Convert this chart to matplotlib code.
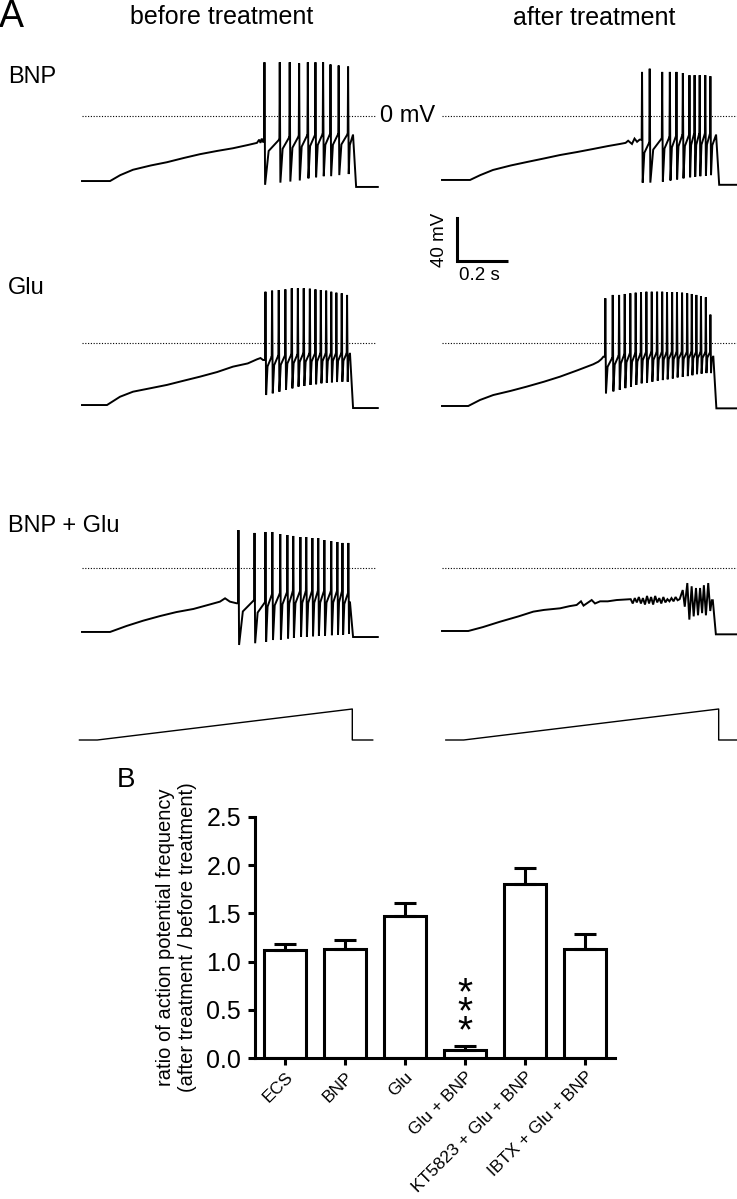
import matplotlib
matplotlib.use("Agg")
import matplotlib.pyplot as plt
import numpy as np

plt.rcParams['font.family'] = ['Liberation Sans', 'DejaVu Sans']

# ---------------- panel A: membrane potential traces (s, mV) ----------------
# BNP, before treatment
bnp_pre_ramp_t = [0.0, 0.11, 0.15, 0.20, 0.27, 0.333, 0.40, 0.463, 0.53, 0.592, 0.65, 0.686, 0.695, 0.70, 0.705, 0.71]
bnp_pre_ramp_v = [-60.5, -60.5, -55, -50, -46, -43, -39, -35.5, -32.5, -30, -27, -25, -22, -25, -21, -24]
bnp_pre_spk_t = [0.714, 0.774, 0.813, 0.850, 0.884, 0.914, 0.944, 0.973, 1.005, 1.042]
bnp_pre_peak = [50, 50, 50, 49, 50, 50, 50, 48, 47, 46]
bnp_pre_ahp = [-64, -62, -61, -60, -58, -57, -56, -56, -55, -54]
bnp_pre_thr = [-22, -20, -19, -18, -18, -17, -17, -17, -17, -18]

# BNP, after treatment
bnp_post_ramp_t = [0.0, 0.11, 0.15, 0.20, 0.27, 0.333, 0.40, 0.463, 0.53, 0.592, 0.65, 0.698, 0.72, 0.73, 0.745, 0.755, 0.765, 0.775]
bnp_post_ramp_v = [-59.5, -59.5, -55, -50.2, -46, -42.8, -39.5, -36.3, -33.5, -30.7, -28, -26, -25, -23, -26, -21, -24, -22]
bnp_post_spk_t = [0.783, 0.813, 0.862, 0.892, 0.918, 0.943, 0.969, 0.989, 1.009, 1.031, 1.051]
bnp_post_peak = [41, 44, 41, 41, 41, 40, 38, 38, 38, 38, 37]
bnp_post_ahp = [-62, -62, -61, -60, -59, -58, -57, -56.5, -56, -55.5, -55]
bnp_post_thr = [-25, -21, -20, -19, -18, -18, -17, -17, -17, -17, -18]

# Glu, before treatment
glu_pre_ramp_t = [0.0, 0.098, 0.149, 0.20, 0.27, 0.333, 0.40, 0.463, 0.53, 0.592, 0.65, 0.686, 0.70, 0.71]
glu_pre_ramp_v = [-57.7, -57.7, -50, -45.3, -42, -39, -35, -31.3, -27, -22, -19, -15.2, -14, -15.8]
glu_pre_spk_t = [0.718, 0.744, 0.770, 0.796, 0.821, 0.845, 0.868, 0.892, 0.914, 0.935, 0.956, 0.976, 0.996, 1.017, 1.038]
glu_pre_peak = [47.7, 48.7, 49.3, 49.9, 50.9, 50.9, 50.9, 50.5, 49.9, 49.3, 48.7, 47.7, 46.8, 46.2, 44.7]
glu_pre_ahp = [-48.4, -46.8, -45.3, -43.7, -42.2, -40.6, -40, -39, -38.4, -37.5, -36.9, -36.6, -36.3, -36, -36]
glu_pre_thr = [-13, -12, -12, -11, -11, -10, -10, -10, -10, -10, -10, -10, -10, -10, -10]

# Glu, after treatment
glu_post_ramp_t = [0.0, 0.103, 0.149, 0.201, 0.27, 0.332, 0.40, 0.463, 0.53, 0.593, 0.613, 0.625, 0.633]
glu_post_ramp_v = [-58.6, -58.6, -53, -48.4, -44.5, -40.6, -36, -31.3, -25.5, -19.8, -17.4, -15, -12.7]
glu_post_spk_t = [0.639, 0.668, 0.693, 0.715, 0.737, 0.758, 0.779, 0.800, 0.821, 0.842, 0.862,
                  0.881, 0.901, 0.920, 0.940, 0.960, 0.978, 0.996, 1.014, 1.033, 1.051]
glu_post_peak = [41.6, 44.7, 44.7, 45.6, 46.2, 46.8, 47.4, 47.7, 47.7, 47.7, 47.7,
                 47.4, 47.4, 47.1, 46.8, 46.2, 45.6, 44.7, 43.7, 42.5, 26.4]
glu_post_ahp = [-46.8, -45, -43.5, -42, -40.5, -39, -37.5, -36.8, -36, -35, -34.5,
                -33.8, -33, -32, -31.5, -30.8, -30, -29, -28.5, -28, -28]
glu_post_thr = [-14, -12, -11, -10, -10, -10, -9, -9, -9, -9, -9,
                -9, -9, -9, -9, -9, -9, -9, -9, -9, -12.7]

# BNP + Glu, before treatment
both_pre_ramp_t = [0.0, 0.11, 0.175, 0.24, 0.306, 0.37, 0.437, 0.50, 0.541, 0.561, 0.580, 0.606]
both_pre_ramp_v = [-59.5, -59.5, -53.9, -49, -44.7, -41, -38.1, -34, -31.3, -28.2, -31.3, -32.8]
both_pre_spk_t = [0.612, 0.675, 0.718, 0.745, 0.776, 0.804, 0.827, 0.855, 0.878, 0.902, 0.925, 0.949, 0.976, 1.0, 1.02, 1.043]
both_pre_peak = [35.3, 32.6, 33.5, 33.5, 31.6, 30.7, 29.8, 28.8, 28.8, 27.9, 27.9, 26, 25.1, 24.2, 23.3, 23.3]
both_pre_ahp = [-71.6, -70, -68.8, -67, -66.5, -65.5, -65, -64, -64, -63.5, -63, -63, -62.5, -62, -62, -61]
both_pre_thr = [-30, -32, -25, -24, -23, -22, -22, -22, -22, -22, -22, -22, -22, -22, -24, -32]

# BNP + Glu, after treatment (no full spikes, only oscillations)
both_post_ramp_t = [0.0, 0.103, 0.16, 0.227, 0.30, 0.358, 0.40, 0.463, 0.50, 0.528, 0.545, 0.555, 0.587, 0.60, 0.62, 0.65, 0.685,
                    0.740, 0.748, 0.756, 0.764, 0.772, 0.780, 0.788, 0.796, 0.804, 0.812, 0.820, 0.828, 0.836, 0.844,
                    0.852, 0.860, 0.868, 0.876, 0.884, 0.892, 0.900, 0.908, 0.916, 0.924, 0.932,
                    0.944, 0.952, 0.962, 0.970, 0.979, 0.987, 0.996, 1.004, 1.012, 1.020, 1.027, 1.035, 1.044, 1.052, 1.058]
both_post_ramp_v = [-58.6, -58.6, -55, -50, -45, -40.6, -39, -37.5, -35.5, -34.4, -31, -35, -29.8, -33, -31, -31, -29.8,
                    -29, -33, -28, -32, -27, -33, -28, -34, -26, -33, -27, -34, -26, -32,
                    -28, -33, -27, -32, -29, -31, -28, -31, -27, -30, -29,
                    -20.5, -36, -14, -48, -17, -45, -18.6, -44, -18.6, -42, -16, -44, -14, -40, -30]

# offset time of the ramp response and level after it
off_t = {'bnp_pre': 1.063, 'bnp_post': 1.075, 'glu_pre': 1.051, 'glu_post': 1.064, 'both_pre': 1.051, 'both_post': 1.062}
rest_v = {'bnp_pre': -66, 'bnp_post': -64, 'glu_pre': -60.5, 'glu_post': -60.8, 'both_pre': -64.2, 'both_post': -61.7}

# ramp current command (normalised)
cmd_pre_t = [-0.01, 0.06, 1.06, 1.06, 1.14]
cmd_post_t = [0.015, 0.085, 1.085, 1.085, 1.16]
cmd_v = [0, 0, 1, 0, 0]

row_labels = ['BNP', 'Glu', 'BNP + Glu']
col_titles = ['before treatment', 'after treatment']

# ---------------- panel B: bar chart ----------------
conditions = ['ECS', 'BNP', 'Glu', 'Glu + BNP', 'KT5823 + Glu + BNP', 'IBTX + Glu + BNP']
ratio_mean = [1.12, 1.13, 1.47, 0.08, 1.80, 1.13]
ratio_sem = [0.06, 0.09, 0.14, 0.04, 0.17, 0.16]
signif = ['', '', '', '***', '', '']


def build_trace(ramp_t, ramp_v, spk_t, peak, ahp, thr, t_off, v_rest, t_end=1.16):
    t = list(ramp_t)
    v = list(ramp_v)
    prev = ramp_v[-1]
    n = len(spk_t)
    for i in range(n):
        ts = spk_t[i]
        nxt = spk_t[i + 1] if i + 1 < n else t_off
        t += [ts, ts + 0.0015, ts + 0.004]
        v += [prev, peak[i], ahp[i]]
        gap = nxt - (ts + 0.004)
        t += [ts + 0.004 + 0.25 * gap, nxt - 0.001]
        v += [ahp[i] + 0.75 * (thr[i] - ahp[i]), thr[i]]
        prev = thr[i]
    t += [t_off, t_off + 0.012, t_end]
    v += [prev, v_rest, v_rest]
    return t, v


traces = [
    [build_trace(bnp_pre_ramp_t, bnp_pre_ramp_v, bnp_pre_spk_t, bnp_pre_peak, bnp_pre_ahp, bnp_pre_thr,
                 off_t['bnp_pre'], rest_v['bnp_pre']),
     build_trace(bnp_post_ramp_t, bnp_post_ramp_v, bnp_post_spk_t, bnp_post_peak, bnp_post_ahp, bnp_post_thr,
                 off_t['bnp_post'], rest_v['bnp_post'])],
    [build_trace(glu_pre_ramp_t, glu_pre_ramp_v, glu_pre_spk_t, glu_pre_peak, glu_pre_ahp, glu_pre_thr,
                 off_t['glu_pre'], rest_v['glu_pre']),
     build_trace(glu_post_ramp_t, glu_post_ramp_v, glu_post_spk_t, glu_post_peak, glu_post_ahp, glu_post_thr,
                 off_t['glu_post'], rest_v['glu_post'])],
    [build_trace(both_pre_ramp_t, both_pre_ramp_v, both_pre_spk_t, both_pre_peak, both_pre_ahp, both_pre_thr,
                 off_t['both_pre'], rest_v['both_pre']),
     build_trace(both_post_ramp_t, both_post_ramp_v, [], [], [], [],
                 off_t['both_post'], rest_v['both_post'])],
]

W, H = 737, 1199
fig = plt.figure(figsize=(W / 100, H / 100), dpi=100)


def px_axes(x, y, w, h):
    return fig.add_axes([x / W, 1 - (y + h) / H, w / W, h / H])


def px_text(x, y, s, **kw):
    return fig.text(x / W, 1 - y / H, s, **kw)


PX_S = 255.0     # pixels per second
PX_MV = 1.075    # pixels per mV
T_SPAN = 1.15
col_x = [82, 442]
zero_y = [116, 343, 568]

trace_axes = []
for r in range(3):
    row = []
    for c in range(2):
        ax = px_axes(col_x[c], zero_y[r] - 60 * PX_MV, T_SPAN * PX_S, 140 * PX_MV)
        ax.set_xlim(0, T_SPAN)
        ax.set_ylim(-80, 60)
        ax.axis('off')
        t, v = traces[r][c]
        ax.plot(t, v, color='black', lw=1.4, clip_on=False, solid_joinstyle='miter')
        x1 = T_SPAN if c == 0 else T_SPAN + 0.01
        ax.plot([0, x1], [0, 0], color='black', lw=0.8, ls=(0, (1, 1.5)), clip_on=False)
        row.append(ax)
    trace_axes.append(row)

# command ramp
for c, ct in enumerate([cmd_pre_t, cmd_post_t]):
    ax = px_axes(col_x[c], 700, T_SPAN * PX_S, 50)
    ax.set_xlim(0, T_SPAN)
    ax.set_ylim(-10 / 31, 1 + 9 / 31)
    ax.axis('off')
    ax.plot(ct, cmd_v, color='black', lw=1.0, clip_on=False)

# scale bar: 0.2 s / 40 mV
sb = trace_axes[0][1]
sb_t0, sb_v0 = 0.06, -135
sb.plot([sb_t0, sb_t0 + 0.2], [sb_v0, sb_v0], color='black', lw=2.2, clip_on=False, solid_capstyle='butt')
sb.plot([sb_t0, sb_t0], [sb_v0, sb_v0 + 40], color='black', lw=2.2, clip_on=False, solid_capstyle='projecting')
px_text(440, 240, '40 mV', rotation=90, ha='center', va='center', fontsize=13.5)
px_text(479, 276, '0.2 s', ha='center', va='center', fontsize=13.5)

px_text(408, 116, '0 mV', ha='center', va='center', fontsize=17)
px_text(-1, 27, 'A', ha='left', va='baseline', fontsize=27)
px_text(222, 17, col_titles[0], ha='center', va='center', fontsize=18)
px_text(594, 18, col_titles[1], ha='center', va='center', fontsize=18)
for lab, y in zip(row_labels, [77, 288, 526]):
    px_text(8, y, lab, ha='left', va='center', fontsize=17)

# ---------------- panel B ----------------
axb = px_axes(255, 817, 360, 241)
x = np.arange(len(conditions))
axb.bar(x, ratio_mean, width=0.7, color='white', edgecolor='black', linewidth=2.2, zorder=2)
axb.errorbar(x, ratio_mean, yerr=[np.zeros(len(x)), ratio_sem], fmt='none', ecolor='black',
             elinewidth=2.2, capsize=8, capthick=2.2, zorder=3)
for i, s in enumerate(signif):
    if s:
        axb.text(x[i], ratio_mean[i] + ratio_sem[i] - 0.04, '\n'.join(s), ha='center', va='bottom',
                 fontsize=28, linespacing=0.39)
axb.set_xlim(-0.5, 5.5)
axb.set_ylim(0, 2.5)
axb.set_yticks([0, 0.5, 1.0, 1.5, 2.0, 2.5])
axb.set_yticklabels(['0.0', '0.5', '1.0', '1.5', '2.0', '2.5'], fontsize=18)
axb.set_xticks(x)
axb.set_xticklabels(conditions, rotation=45, ha='right', rotation_mode='anchor', fontsize=12.5)
for side in ['top', 'right']:
    axb.spines[side].set_visible(False)
for side in ['left', 'bottom']:
    axb.spines[side].set_linewidth(2.2)
axb.tick_params(axis='both', width=2.2, length=5, direction='out')
axb.tick_params(axis='y', pad=5)
axb.tick_params(axis='x', pad=3)
axb.set_ylabel('ratio of action potential frequency\n(after treatment / before treatment)',
               fontsize=14.5, linespacing=1.15, labelpad=7)
px_text(117, 780, 'B', ha='left', va='center', fontsize=20)

fig.savefig('out.png', dpi=100)
